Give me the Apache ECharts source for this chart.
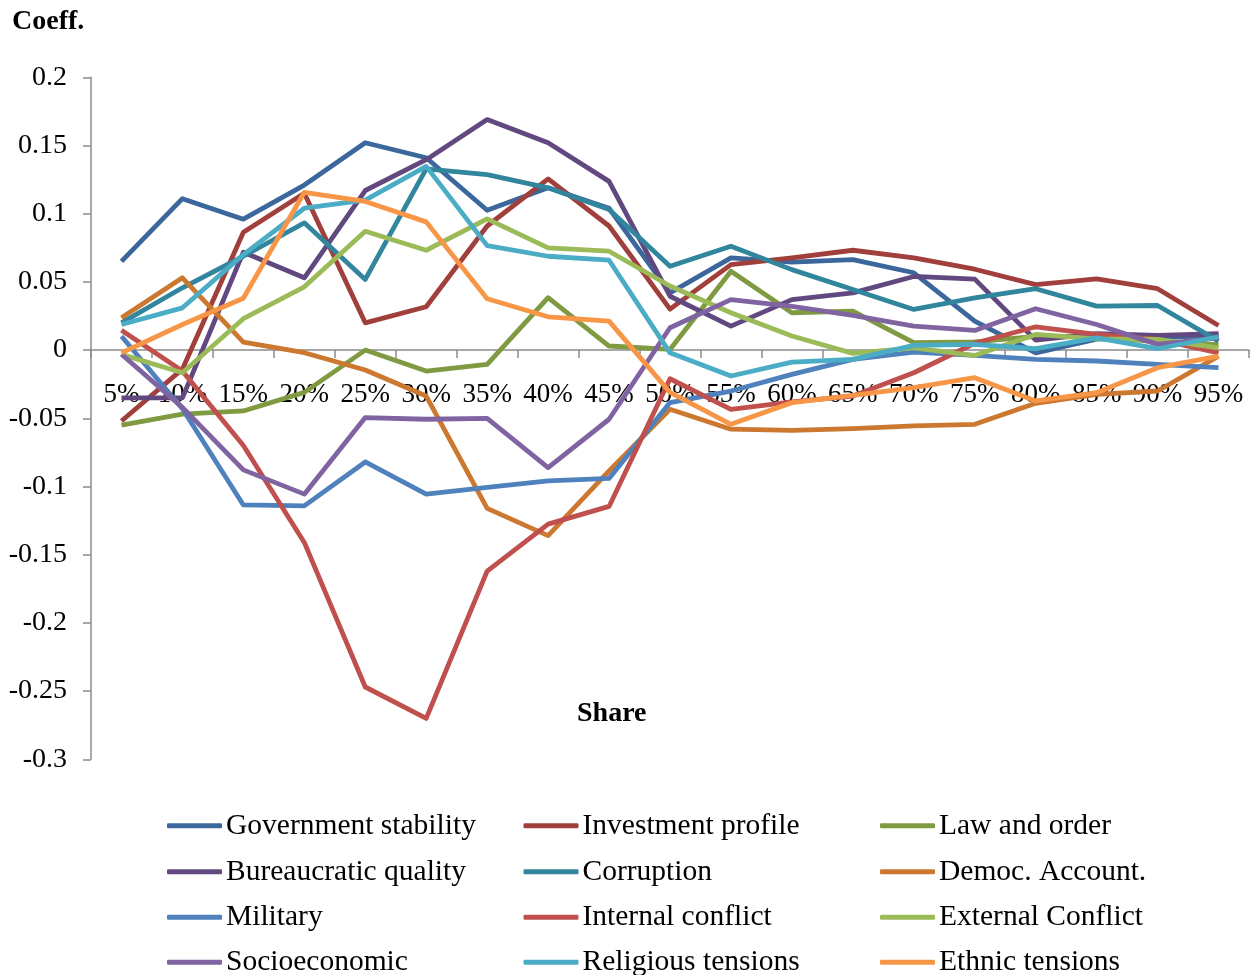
<!DOCTYPE html>
<html>
<head>
<meta charset="utf-8">
<script src="https://cdn.jsdelivr.net/npm/echarts@6/dist/echarts.min.js"></script>
<style>
html,body{margin:0;padding:0;background:#fff;}
#chart{width:1259px;height:975px;}
</style>
</head>
<body>
<div id="chart"></div>
<script>
const categories = ['5%','10%','15%','20%','25%','30%','35%','40%','45%','50%','55%','60%','65%','70%','75%','80%','85%','90%','95%'];
const yTicks = [-0.3,-0.25,-0.2,-0.15,-0.1,-0.05,0,0.05,0.1,0.15,0.2];

const governmentStability = [0.065,0.111,0.096,0.121,0.152,0.141,0.1025,0.119,0.104,0.042,0.0676,0.0645,0.0664,0.0567,0.0212,-0.002,0.008,0.009,0.011];
const investmentProfile   = [-0.052,-0.014,0.0864,0.115,0.020,0.0318,0.091,0.1255,0.091,0.030,0.0627,0.0676,0.0732,0.0676,0.0593,0.048,0.0522,0.045,0.018];
const lawAndOrder         = [-0.055,-0.047,-0.0446,-0.031,0.000,-0.0154,-0.0105,0.0384,0.003,0.0005,0.0578,0.0274,0.0286,0.0054,0.006,0.010,0.010,0.006,0.004];
const bureaucraticQuality = [-0.035,-0.035,0.0718,0.053,0.117,0.1396,0.169,0.152,0.1237,0.0395,0.0176,0.037,0.042,0.054,0.052,0.0073,0.012,0.0108,0.012];
const corruption          = [0.020,0.0457,0.0688,0.0933,0.0518,0.1328,0.1286,0.119,0.103,0.0615,0.0761,0.059,0.0444,0.0298,0.0383,0.045,0.0322,0.0327,0.0066];
const democAccount        = [0.0237,0.053,0.0059,-0.0019,-0.0146,-0.0337,-0.116,-0.136,-0.0886,-0.0434,-0.058,-0.0588,-0.0576,-0.0556,-0.0544,-0.039,-0.0324,-0.030,-0.0044];
const military            = [0.0102,-0.043,-0.1135,-0.1142,-0.082,-0.1056,-0.1007,-0.0959,-0.0941,-0.0385,-0.030,-0.0178,-0.0068,-0.0015,-0.0039,-0.0068,-0.008,-0.0105,-0.0129];
const internalConflict    = [0.0146,-0.0154,-0.070,-0.141,-0.247,-0.270,-0.162,-0.1276,-0.1146,-0.021,-0.0434,-0.038,-0.0337,-0.0166,0.005,0.0171,0.0115,0.0078,-0.002];
const externalConflict    = [-0.0031,-0.0166,0.023,0.0464,0.0871,0.0732,0.0962,0.075,0.0725,0.047,0.0274,0.0103,-0.0024,0.0017,-0.004,0.0115,0.0083,0.0078,0.0017];
const socioeconomic       = [-0.003,-0.042,-0.0878,-0.1056,-0.0495,-0.0507,-0.050,-0.0861,-0.0507,0.0164,0.037,0.032,0.0254,0.0176,0.0144,0.0303,0.0188,0.0042,0.009];
const religiousTensions   = [0.0188,0.031,0.070,0.104,0.110,0.1347,0.0766,0.0688,0.0659,-0.002,-0.019,-0.0088,-0.0068,0.0034,0.0042,0.001,0.009,0.001,0.0098];
const ethnicTensions      = [-0.002,0.0188,0.038,0.1157,0.109,0.094,0.0376,0.0244,0.0212,-0.031,-0.0544,-0.0385,-0.0332,-0.0275,-0.0202,-0.0373,-0.0312,-0.0129,-0.0044];

const seriesNames = ['Government stability','Investment profile','Law and order','Bureaucratic quality','Corruption','Democ. Account.','Military','Internal conflict','External Conflict','Socioeconomic','Religious tensions','Ethnic tensions'];
const seriesData = [governmentStability,investmentProfile,lawAndOrder,bureaucraticQuality,corruption,democAccount,military,internalConflict,externalConflict,socioeconomic,religiousTensions,ethnicTensions];
const colors = ['#3b679c','#a03f3b','#7f9a41','#61497f','#31859c','#cc7831','#4f81bd','#c0504d','#9bbb59','#8064a2','#4bacc6','#f79646'];

const FONT = '"Liberation Serif", "Times New Roman", serif';
const AXIS_COLOR = '#8c8c8c';

const GRID_TOP = 77.3, GRID_BOTTOM_PX = 759.3;
const Y_MIN = yTicks[0], Y_MAX = yTicks[yTicks.length-1];
// offset of the category axis so it sits on the zero line
const zeroOffset = -(GRID_BOTTOM_PX - GRID_TOP) * (0 - Y_MIN) / (Y_MAX - Y_MIN);

const chart = echarts.init(document.getElementById('chart'), null, {renderer:'canvas'});

const rowTops = [809.8, 855.8, 901.3, 946.3];
const legends = rowTops.map(function(t, r){
  return {
    orient:'horizontal', left:167, top:t, itemWidth:55, itemHeight:5, itemGap:0.5,
    icon:'roundRect', selectedMode:false, padding:0,
    textStyle:{fontFamily:FONT, fontSize:29.5, color:'#000', lineHeight:32, width:297, overflow:'none', padding:[0,0,0,-1]},
    data:[seriesNames[r*3], seriesNames[r*3+1], seriesNames[r*3+2]]
  };
});

const option = {
  animation:false,
  color: colors,
  textStyle:{fontFamily:FONT},
  grid:{left:91, right:10, top:GRID_TOP, bottom:975-GRID_BOTTOM_PX, containLabel:false},
  legend: legends,
  graphic:[
    {type:'text', left:12, top:8, style:{text:'Coeff.', font:'bold 28px ' + FONT, fill:'#000'}},
    {type:'text', left:577, top:700, style:{text:'Share', font:'bold 28px ' + FONT, fill:'#000'}}
  ],
  xAxis:{
    type:'category', data:categories, boundaryGap:true, position:'bottom', offset:zeroOffset,
    axisLine:{onZero:false, lineStyle:{color:AXIS_COLOR, width:1.5}},
    axisTick:{show:true, inside:false, length:8, alignWithLabel:false, interval:0, lineStyle:{color:AXIS_COLOR, width:1.5}},
    axisLabel:{interval:0, margin:31, fontFamily:FONT, fontSize:27, color:'#000', hideOverlap:false},
    splitLine:{show:false}
  },
  yAxis:{
    type:'value', min:Y_MIN, max:Y_MAX, interval:0.05,
    axisLine:{show:true, lineStyle:{color:AXIS_COLOR, width:1.5}},
    axisTick:{show:true, length:8, lineStyle:{color:AXIS_COLOR, width:1.5}},
    axisLabel:{margin:24, fontFamily:FONT, fontSize:28, color:'#000',
      formatter:function(v){return String(parseFloat(v.toFixed(2)));}},
    splitLine:{show:false}
  },
  series: seriesNames.map(function(name,i){
    return {
      name:name, type:'line', data:seriesData[i], symbol:'none', showSymbol:false,
      lineStyle:{width:4.8, color:colors[i], join:'round'},
      itemStyle:{color:colors[i]},
      z:2+i
    };
  })
};
chart.setOption(option);
</script>
</body>
</html>
